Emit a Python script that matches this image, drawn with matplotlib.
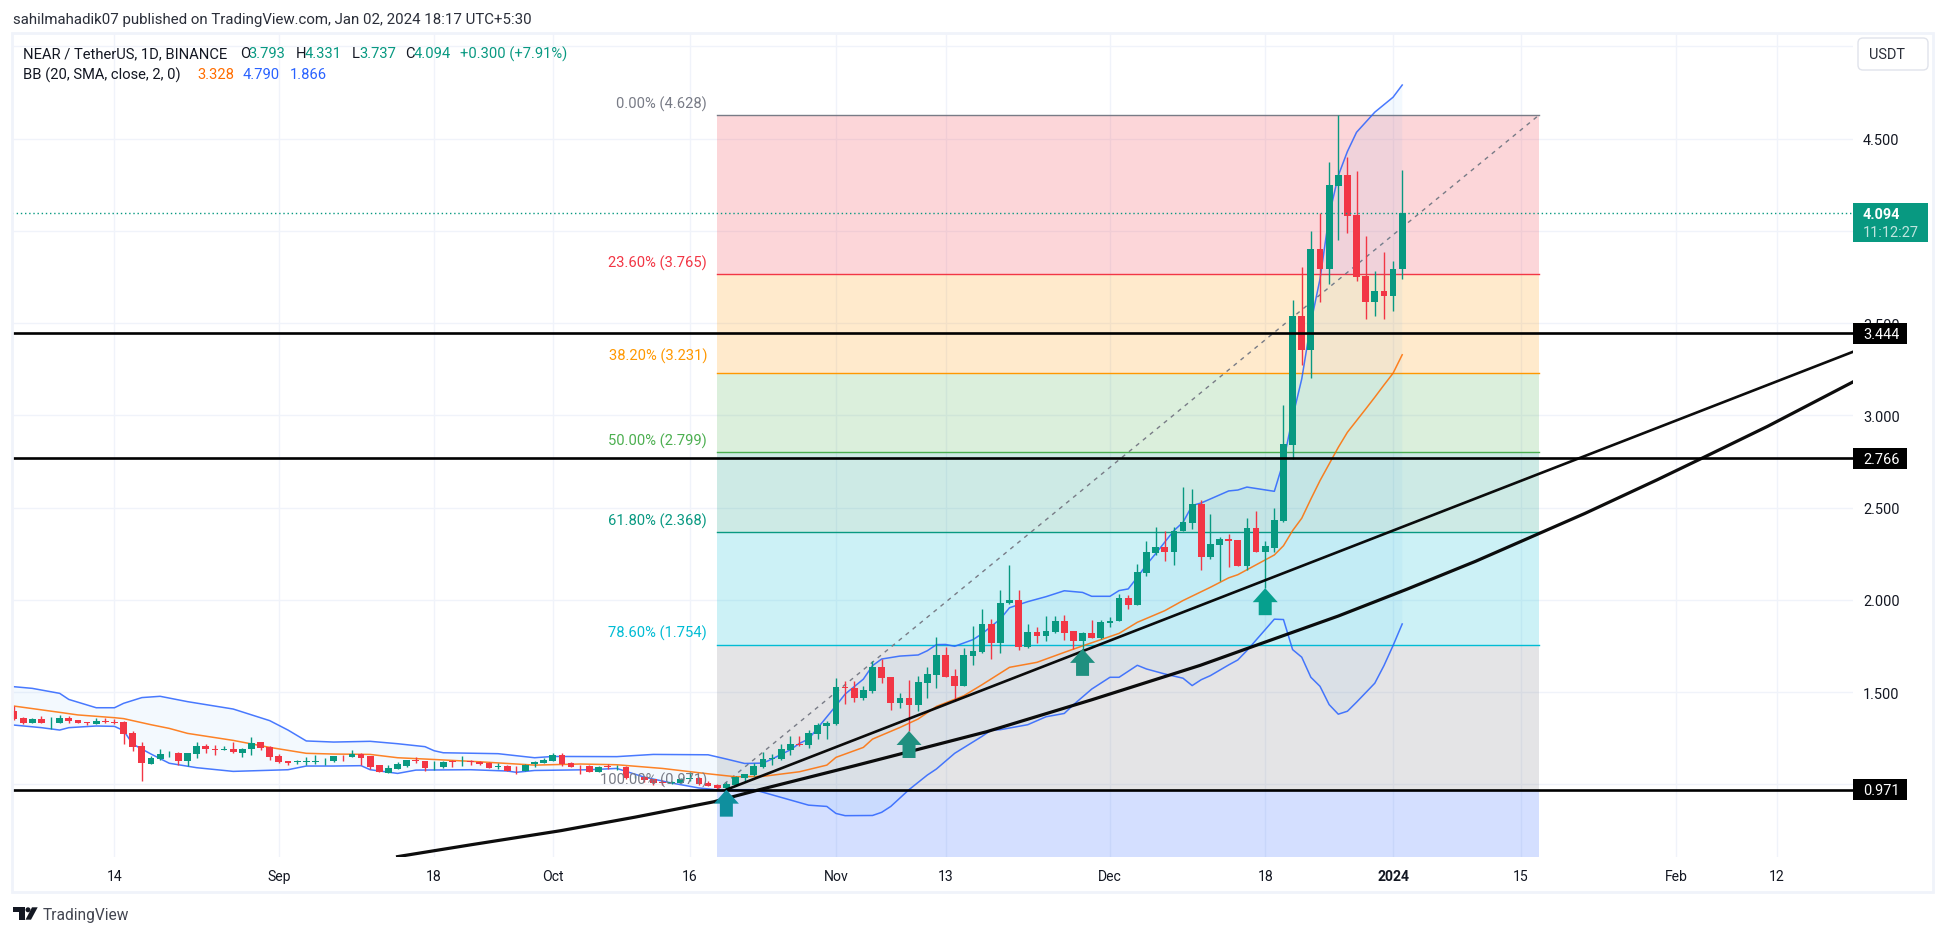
import numpy as np
import matplotlib
matplotlib.use("Agg")
import matplotlib.pyplot as plt
from matplotlib.patches import FancyBboxPatch, Rectangle, Polygon, Circle

plt.rcParams['font.family'] = ['Roboto', 'DejaVu Sans']

# ---- daily candles, 3 Aug 2023 (index 0) to 2 Jan 2024 (index 152) ----
opens = [1.395,1.359,1.334,1.354,1.336,1.334,1.359,1.349,1.338,1.329,1.341,1.338,1.338,1.278,1.206,1.112,1.137,1.162,1.170,1.128,
1.166,1.208,1.191,1.188,1.191,1.171,1.191,1.229,1.202,1.153,1.126,1.121,1.121,1.123,1.124,1.126,1.155,1.150,1.164,1.152,
1.103,1.063,1.085,1.099,1.132,1.124,1.097,1.094,1.126,1.124,1.126,1.122,1.117,1.092,1.101,1.079,1.074,1.108,1.117,1.126,
1.157,1.117,1.101,1.101,1.068,1.097,1.092,1.094,1.038,1.039,1.029,1.014,1.007,1.009,1.027,1.034,1.009,0.996,0.978,0.998,
1.032,1.050,1.093,1.137,1.137,1.186,1.216,1.213,1.272,1.317,1.326,1.527,1.520,1.468,1.505,1.636,1.581,1.440,1.468,1.430,
1.549,1.592,1.701,1.587,1.533,1.695,1.717,1.869,1.766,1.982,1.999,1.744,1.825,1.804,1.825,1.885,1.831,1.776,1.820,1.793,
1.874,1.885,2.010,1.972,2.146,2.254,2.287,2.260,2.373,2.417,2.520,2.233,2.298,2.330,2.325,2.184,2.390,2.260,2.281,2.427,
2.839,3.538,3.354,3.902,3.793,4.243,4.303,4.086,3.755,3.614,3.674,3.647,3.793]
highs = [1.426,1.363,1.358,1.370,1.363,1.376,1.370,1.349,1.338,1.359,1.361,1.354,1.345,1.289,1.229,1.152,1.191,1.180,1.173,1.168,
1.227,1.218,1.213,1.208,1.229,1.195,1.256,1.229,1.206,1.164,1.126,1.132,1.148,1.159,1.142,1.155,1.161,1.186,1.168,1.152,
1.105,1.103,1.119,1.132,1.146,1.128,1.124,1.128,1.132,1.151,1.133,1.128,1.119,1.113,1.104,1.097,1.108,1.128,1.144,1.169,
1.169,1.119,1.104,1.104,1.101,1.110,1.104,1.097,1.050,1.043,1.029,1.021,1.019,1.034,1.068,1.038,1.016,1.000,1.014,1.046,
1.055,1.115,1.177,1.164,1.216,1.260,1.263,1.294,1.332,1.343,1.576,1.561,1.560,1.533,1.670,1.679,1.581,1.495,1.565,1.587,
1.636,1.796,1.744,1.625,1.739,1.858,1.950,1.896,2.053,2.188,2.053,1.869,1.852,1.912,1.912,1.917,1.831,1.825,1.890,1.890,
1.907,2.031,2.026,2.194,2.319,2.393,2.373,2.393,2.612,2.601,2.542,2.466,2.341,2.357,2.325,2.444,2.482,2.319,2.498,3.056,
3.625,3.804,3.999,4.097,4.371,4.628,4.400,4.324,3.972,3.782,3.885,3.837,4.331]
lows = [1.350,1.329,1.332,1.332,1.302,1.334,1.332,1.330,1.323,1.329,1.332,1.327,1.220,1.180,1.020,1.112,1.132,1.150,1.106,1.099,
1.142,1.170,1.159,1.186,1.171,1.148,1.159,1.186,1.132,1.117,1.105,1.110,1.106,1.110,1.105,1.121,1.124,1.148,1.103,1.083,
1.067,1.061,1.083,1.095,1.117,1.072,1.077,1.090,1.095,1.101,1.106,1.106,1.088,1.083,1.070,1.057,1.072,1.094,1.115,1.124,
1.101,1.092,1.057,1.065,1.065,1.083,1.077,1.029,1.032,1.014,0.996,0.996,1.003,1.007,1.019,0.996,0.989,0.969,0.974,0.992,
1.014,1.046,1.088,1.104,1.133,1.160,1.209,1.196,1.245,1.245,1.323,1.435,1.444,1.457,1.495,1.549,1.402,1.413,1.287,1.397,
1.468,1.522,1.581,1.453,1.533,1.646,1.711,1.679,1.711,1.977,1.728,1.739,1.766,1.776,1.820,1.782,1.733,1.733,1.793,1.787,
1.852,1.885,1.950,1.972,2.130,2.243,2.211,2.189,2.373,2.384,2.162,2.222,2.102,2.178,2.184,2.162,2.260,2.065,2.260,2.422,
2.763,3.273,3.202,3.614,3.712,3.950,3.988,3.728,3.522,3.538,3.522,3.566,3.737]
closes = [1.354,1.334,1.354,1.334,1.340,1.359,1.341,1.332,1.334,1.345,1.338,1.334,1.274,1.204,1.117,1.142,1.162,1.166,1.126,1.168,
1.206,1.193,1.188,1.191,1.177,1.191,1.224,1.199,1.150,1.123,1.117,1.124,1.124,1.126,1.128,1.152,1.152,1.162,1.144,1.094,
1.068,1.088,1.110,1.132,1.128,1.088,1.101,1.119,1.122,1.128,1.122,1.112,1.088,1.097,1.074,1.076,1.104,1.122,1.133,1.160,
1.110,1.094,1.097,1.068,1.095,1.094,1.095,1.034,1.041,1.021,1.007,1.009,1.010,1.030,1.032,1.003,0.991,0.982,1.001,1.039,
1.055,1.099,1.135,1.140,1.189,1.218,1.213,1.278,1.321,1.334,1.527,1.524,1.468,1.511,1.636,1.576,1.440,1.468,1.430,1.554,
1.598,1.701,1.581,1.533,1.701,1.722,1.869,1.766,1.982,1.999,1.744,1.825,1.804,1.831,1.885,1.820,1.776,1.820,1.793,1.879,
1.885,2.010,1.972,2.151,2.260,2.287,2.260,2.373,2.422,2.520,2.233,2.303,2.330,2.319,2.184,2.390,2.260,2.292,2.433,2.845,
3.538,3.354,3.902,3.793,4.249,4.303,4.081,3.750,3.614,3.674,3.647,3.793,4.094]

# ---- Bollinger bands, read at the days where they bend ----
upper_days = [0,2,5,6,9,11,12,14,16,19,24,28,30,32,35,39,42,45,46,47,53,57,59,66,70,76,78,80,82,83,85,86,87,90,91,93,94,95,97,99,100,101,102,103,105,106,108,109,111,113,115,117,118,120,121,122,123,124,125,127,128,129,130,133,134,135,138,139,140,141,142,143,144,145,146,147,149,151,152]
upper_band = [1.529,1.520,1.493,1.460,1.415,1.415,1.439,1.470,1.477,1.448,1.408,1.345,1.294,1.235,1.229,1.233,1.220,1.204,1.182,1.171,1.166,1.144,1.151,1.150,1.162,1.160,1.137,1.113,1.115,1.137,1.187,1.222,1.245,1.426,1.489,1.570,1.643,1.679,1.695,1.701,1.724,1.757,1.758,1.748,1.784,1.816,1.896,1.957,1.990,2.017,2.049,2.040,2.019,2.019,2.050,2.059,2.122,2.190,2.250,2.375,2.420,2.511,2.525,2.590,2.595,2.611,2.588,2.750,2.990,3.197,3.500,3.739,4.082,4.299,4.430,4.534,4.643,4.724,4.790]
lower_days = [0,3,5,6,9,11,12,13,15,17,20,24,30,32,35,38,39,42,44,50,54,55,57,63,66,69,72,75,77,81,84,87,89,90,91,94,95,96,98,100,101,103,106,107,108,111,113,115,116,118,120,121,123,124,126,128,129,130,131,133,134,135,138,139,140,141,142,143,144,145,146,147,149,150,151,152]
lower_band = [1.321,1.307,1.294,1.307,1.316,1.314,1.291,1.218,1.164,1.114,1.090,1.070,1.079,1.099,1.099,1.101,1.079,1.059,1.077,1.079,1.072,1.065,1.075,1.079,1.086,1.039,1.007,0.980,0.970,0.971,0.929,0.887,0.880,0.842,0.830,0.831,0.848,0.880,0.971,1.050,1.083,1.168,1.260,1.294,1.296,1.323,1.366,1.384,1.431,1.516,1.580,1.580,1.645,1.625,1.598,1.575,1.535,1.567,1.589,1.647,1.674,1.725,1.895,1.893,1.730,1.689,1.580,1.531,1.432,1.380,1.396,1.445,1.548,1.643,1.752,1.869]
basis_days = [0,5,7,11,12,15,17,19,24,28,32,35,39,42,45,51,57,62,66,71,76,79,82,86,89,90,93,94,97,99,101,104,106,109,112,115,117,121,123,126,128,131,133,134,138,139,140,141,142,143,144,145,146,147,148,149,150,151,152]
basis_band = [1.424,1.390,1.376,1.361,1.356,1.323,1.303,1.276,1.238,1.200,1.168,1.164,1.162,1.144,1.137,1.122,1.104,1.110,1.106,1.086,1.057,1.041,1.043,1.068,1.104,1.146,1.200,1.245,1.308,1.354,1.422,1.480,1.540,1.634,1.661,1.715,1.750,1.818,1.878,1.941,1.996,2.068,2.119,2.136,2.243,2.293,2.375,2.442,2.546,2.646,2.736,2.826,2.908,2.971,3.034,3.098,3.164,3.228,3.328]

# ---- drawings ----
fib_levels = [4.628, 3.765, 3.231, 2.799, 2.368, 1.754, 0.971]
fib_names = ['0.00% (4.628)', '23.60% (3.765)', '38.20% (3.231)', '50.00% (2.799)',
             '61.80% (2.368)', '78.60% (1.754)', '100.00% (0.971)']
fib_lines = ['#787b86', '#f23645', '#ff9800', '#4caf50', '#089981', '#00bcd4', '#787b86']
fib_zones = ['#f23645', '#ff9800', '#4caf50', '#089981', '#00bcd4', '#787b86', '#2962ff']
fib_start_day, fib_end_day = 77, 167
support_levels = [3.444, 2.766, 0.971]
support_names = ['3.444', '2.766', '0.971']
trend_days = [78, 201.4]
trend_prices = [0.971, 3.345]
curve_days = [42.0, 50, 59.9, 68, 76.6, 81.4, 92, 106.5, 118, 129.9, 136.1, 145, 152.5, 160, 172, 179.9, 184.6, 192, 201.4]
curve_prices = [0.608, 0.672, 0.749, 0.822, 0.905, 0.968, 1.100, 1.285, 1.458, 1.645, 1.755, 1.912, 2.057, 2.208, 2.468, 2.650, 2.762, 2.940, 3.182]
arrow_days = [78, 98, 117, 137]
arrow_prices = [0.971, 1.289, 1.734, 2.063]
arrow_colors = ['#0f8f9e', '#1f9080', '#1f9080', '#06a08e']
last_price = 4.094
tick_days = [11, 29, 46, 59, 74, 90, 102, 120, 137, 151, 165, 182, 193]
tick_labels = ['14', 'Sep', '18', 'Oct', '16', 'Nov', '13', 'Dec', '18', '2024', '15', 'Feb', '12']
price_ticks = [1.0, 1.5, 2.0, 2.5, 3.0, 3.5, 4.0, 4.5, 5.0]

UP, DOWN = '#089981', '#f23645'
INK = '#131722'
W, H = 1946, 937
PX_DAY, PX_PRICE = 9.133, 184.5
PT = 0.72  # points per pixel at dpi 100

fig = plt.figure(figsize=(W / 100, H / 100), dpi=100, facecolor='white')

# ---- price pane ----
left, right, top, bottom = 12, 1853, 34, 858
ax = fig.add_axes([left / W, (H - bottom) / H, (right - left) / W, (bottom - top) / H])
ax.set_xlim(-0.22, 201.36)
ax.set_ylim(0.606, 5.072)
for s in ax.spines.values():
    s.set_visible(False)
ax.set_axisbelow(True)
ax.grid(True, color='#f0f3fa', lw=1)
ax.set_xticks(tick_days)
ax.set_xticklabels(tick_labels, fontsize=14 * PT, color=INK)
ax.get_xticklabels()[9].set_fontweight('bold')
ax.set_yticks(price_ticks)
ax.set_yticklabels([f'{p:.3f}' for p in price_ticks], fontsize=14.5 * PT, color=INK)
ax.yaxis.tick_right()
ax.tick_params(axis='x', length=0, pad=12 * PT)
ax.tick_params(axis='y', length=0, pad=10 * PT)
ymin = ax.get_ylim()[0]

# fib retracement
edges = fib_levels + [ymin]
for k, col in enumerate(fib_zones):
    ax.fill_between([fib_start_day, fib_end_day], edges[k], edges[k + 1], color=col, alpha=0.2, lw=0, zorder=1)
for lev, col in zip(fib_levels, fib_lines):
    ax.plot([fib_start_day, fib_end_day], [lev, lev], color=col, lw=1.0, zorder=1.5)
ax.plot([fib_start_day, fib_end_day], [fib_levels[-1], fib_levels[0]], color='#787b86', lw=1.0,
        dashes=(3, 3.5), zorder=1.6)

# Bollinger bands
ax.fill(np.r_[upper_days, lower_days[::-1]], np.r_[upper_band, lower_band[::-1]],
        color='#2196f3', alpha=0.05, lw=0, zorder=2)
ax.plot(upper_days, upper_band, color='#2962ff', lw=1.1, alpha=0.85, zorder=3)
ax.plot(lower_days, lower_band, color='#2962ff', lw=1.1, alpha=0.85, zorder=3)
ax.plot(basis_days, basis_band, color='#ff6d00', lw=1.1, alpha=0.85, zorder=3)

# candles
days = np.arange(len(closes))
o, h, l, c = map(np.array, (opens, highs, lows, closes))
cols = [UP if b >= a else DOWN for a, b in zip(o, c)]
ax.vlines(days, l, h, colors=cols, lw=1.0, zorder=4)
ax.bar(days, np.maximum(np.abs(c - o), 0.004), bottom=np.minimum(o, c), width=0.74, color=cols, lw=0, zorder=4.1)

# last price and supports
ax.axhline(last_price, color=UP, lw=1.0, dashes=(1, 2), zorder=4.5)
for lev in support_levels:
    ax.axhline(lev, color='black', lw=1.9, zorder=5)
ax.plot(trend_days, trend_prices, color='black', lw=1.9, alpha=0.95, zorder=5)
ax.plot(curve_days, curve_prices, color='black', lw=2.3, alpha=0.95, zorder=5)

# arrows, sized in pixels from the tip
shape_x = np.array([0, 12.5, 6.5, 6.5, -6.5, -6.5, -12.5]) / PX_DAY
shape_y = -np.array([0, 14, 14, 27, 27, 14, 14]) / PX_PRICE
for d, p, col in zip(arrow_days, arrow_prices, arrow_colors):
    ax.fill(d + shape_x, p + shape_y, color=col, lw=0, zorder=6)

# fib labels
for lev, txt, col, up in zip(fib_levels, fib_names, fib_lines, [12, 12, 17, 12, 12, 13, 10]):
    ax.annotate(txt, (fib_start_day, lev), xytext=(-10 * PT, up * PT), textcoords='offset points',
                ha='right', va='center', fontsize=14.8 * PT, color=col, zorder=7)

# ---- page chrome, in pixels ----
ov = fig.add_axes([0, 0, 1, 1], facecolor='none')
ov.set_xlim(0, W)
ov.set_ylim(H, 0)
ov.axis('off')


def put(x, y, s, color=INK, size=14, weight='normal', ha='left', alpha=1):
    ov.text(x, y, s, color=color, fontsize=size * PT, fontweight=weight, ha=ha, va='center', alpha=alpha)


ov.add_patch(Rectangle((12, 34), 1921, 859, fc='none', ec='#f0f3fa', lw=2))
put(13, 20, 'sahilmahadik07 published on TradingView.com, Jan 02, 2024 18:17 UTC+5:30', size=15, color='#2a2e39')

LEG = 14.8
put(23, 54, 'NEAR / TetherUS, 1D, BINANCE', size=LEG)
for x, s, col in [(240, 'O', INK), (248, '3.793', UP), (296, 'H', INK), (304.5, '4.331', UP), (352, 'L', INK),
                  (359, '3.737', UP), (405, 'C', INK), (413.5, '4.094', UP), (459.5, '+0.300 (+7.91%)', UP)]:
    put(x, 54, s, color=col, size=LEG)
put(23, 75, 'BB (20, SMA, close, 2, 0)', size=LEG)
for x, s, col in [(197, '3.328', '#ff6d00'), (243, '4.790', '#2962ff'), (290, '1.866', '#2962ff')]:
    put(x, 75, s, color=col, size=LEG)

ov.add_patch(FancyBboxPatch((1860, 41), 66, 28, boxstyle='round,pad=2,rounding_size=5',
                            fc='white', ec='#e0e3eb', lw=1))
put(1869, 55, 'USDT', size=14.5, color='#2a2e39')

ov.add_patch(Rectangle((1853, 204), 75, 39, fc=UP, ec='none'))
put(1863, 215, '4.094', color='white', size=14.5, weight='bold')
put(1863, 233, '11:12:27', color='white', size=14.5, alpha=0.75)

for lev, s in zip(support_levels, support_names):
    yy = 139.6 + (4.5 - lev) * PX_PRICE
    ov.add_patch(Rectangle((1853, yy - 10.5), 54, 21, fc='black', ec='none'))
    put(1863, yy + 0.5, s, color='white', size=14.5)

# logo and footer
ov.add_patch(Polygon([(12.7, 908.3), (25, 908.3), (25, 920.7), (19, 920.7), (19, 912.7), (12.7, 912.7)], fc=INK, ec='none'))
ov.add_patch(Circle((28, 910.8), 2.5, fc=INK, ec='none'))
ov.add_patch(Polygon([(25.5, 920.7), (31, 920.7), (37.7, 908.3), (32, 908.3)], fc=INK, ec='none'))
put(43, 916, 'TradingView', size=15.5, color='#434651')

fig.savefig('out.png', dpi=100, facecolor='white')
